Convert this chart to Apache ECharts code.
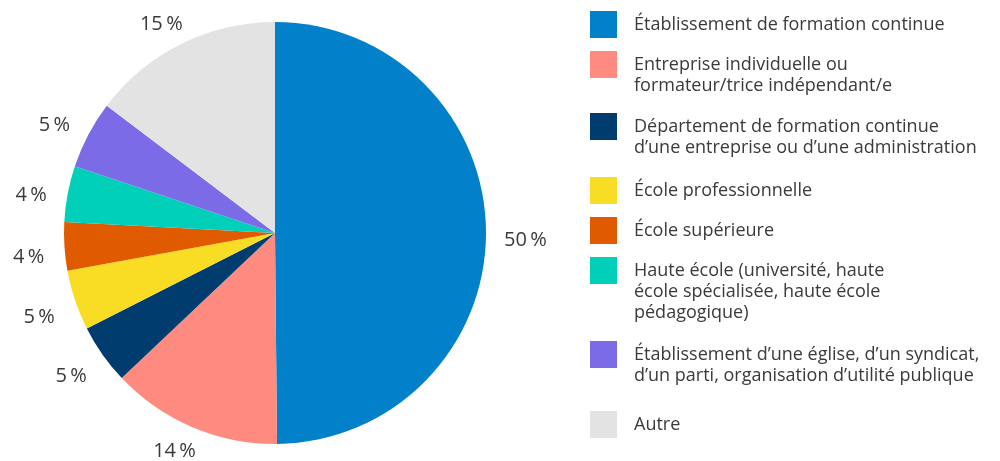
<!DOCTYPE html>
<html>
<head>
<meta charset="utf-8">
<style>
  html, body { margin: 0; padding: 0; background: #fff; }
  #main { width: 1000px; height: 461px; }
</style>
<script src="https://cdn.jsdelivr.net/npm/echarts@6/dist/echarts.min.js"></script>
</head>
<body>
<div id="main"></div>
<script>
// categories, clockwise from 12 o'clock
const categories = [
    'Établissement de formation continue',
    'Entreprise individuelle ou\nformateur/trice indépendant/e',
    'Département de formation continue\nd’une entreprise ou d’une administration',
    'École professionnelle',
    'École supérieure',
    'Haute école (université, haute\nécole spécialisée, haute école\npédagogique)',
    'Établissement d’une église, d’un syndicat,\nd’un parti, organisation d’utilité publique',
    'Autre'
];
// slice sizes
const shares = [49.9, 13.1, 4.6, 4.6, 3.7, 4.3, 5.2, 14.7];
// printed labels
const percentLabels = ['50\u2009%', '14\u2009%', '5\u2009%', '5\u2009%', '4\u2009%', '4\u2009%', '5\u2009%', '15\u2009%'];
const colors = ['#0280ca', '#ff8b80', '#003d6e', '#f9dd24', '#e05a00', '#00cfba', '#7b6be6', '#e3e3e3'];

const FONT = '"Open Sans", "Noto Sans", sans-serif';
const LH = 21;
const CX = 275, CY = 233, R = 211;
// icon top of each legend entry
const legendTops = [11, 51, 113, 177, 217, 257, 341, 411];

let myChart = echarts.init(document.getElementById('main'));

// one legend per entry so the icon sits level with the first text line
const legends = categories.map((name, i) => {
    const n = name.split('\n').length;
    const h = (2 * n - 1) * LH;
    const offset = Math.max(0, h / 2 - 13.5);
    return {
        left: 590,
        top: legendTops[i] - offset,
        padding: 0,
        orient: 'vertical',
        icon: 'rect',
        itemWidth: 27,
        itemHeight: 27,
        selectedMode: false,
        data: [name],
        formatter: nm => '\n'.repeat(n - 1) + nm,
        textStyle: {
            fontFamily: FONT,
            fontSize: 18,
            color: '#3a3a3a',
            lineHeight: LH,
            padding: [0, 0, 0, 12]
        }
    };
});

// push each label out along its slice's mid direction, just clear of the rim
function placeLabel(params) {
    const lr = params.labelRect;
    const mx = lr.x + lr.width / 2 - CX;
    const my = lr.y + lr.height / 2 - CY;
    const len = Math.sqrt(mx * mx + my * my) || 1;
    const ux = mx / len, uy = my / len;
    const d = R + 14 + Math.abs(ux) * (lr.width / 2 + 4);
    const shiftX = ux < 0 ? -9 * Math.sqrt(Math.abs(uy)) : 0;
    return {
        x: CX + ux * d + shiftX,
        y: CY + uy * d + 2 + 7 * (1 - Math.abs(uy)),
        align: 'center',
        verticalAlign: 'middle'
    };
}

const option = {
    animation: false,
    color: colors,
    legend: legends,
    series: [
        {
            type: 'pie',
            center: [CX, CY],
            radius: R,
            startAngle: 90,
            clockwise: true,
            avoidLabelOverlap: false,
            label: {
                show: true,
                position: 'inside',
                formatter: p => percentLabels[p.dataIndex],
                fontFamily: FONT,
                fontSize: 20,
                color: '#3a3a3a'
            },
            labelLine: { show: false },
            labelLayout: placeLabel,
            itemStyle: { borderWidth: 0 },
            emphasis: { disabled: true },
            data: categories.map((name, i) => ({ name: name, value: shares[i] }))
        }
    ]
};
myChart.setOption(option);
</script>
</body>
</html>
